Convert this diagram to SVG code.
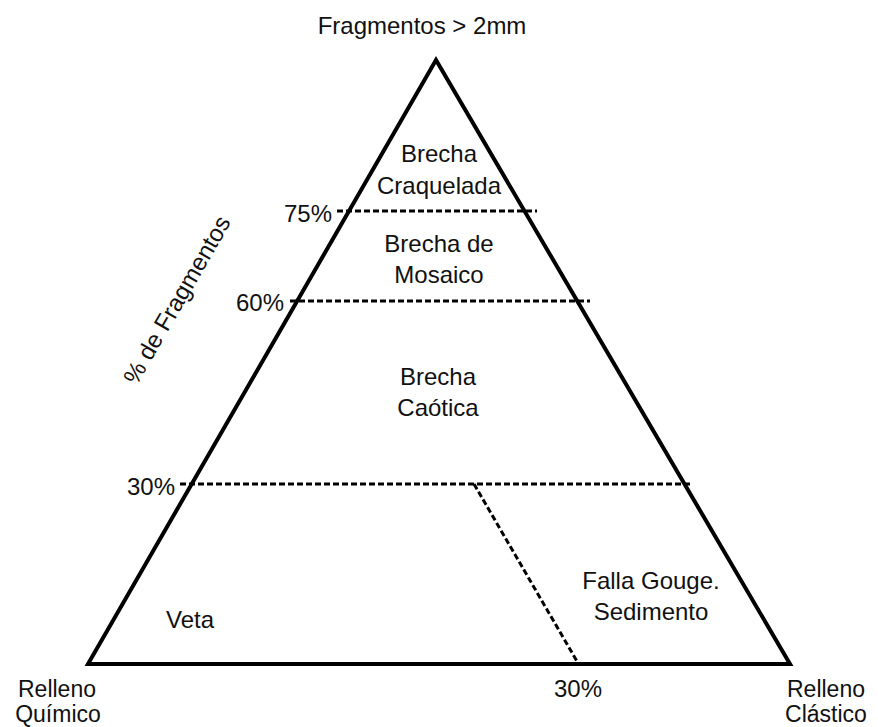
<svg xmlns="http://www.w3.org/2000/svg" width="878" height="727" viewBox="0 0 878 727">
  <style>
    text { font-family: "Liberation Sans", Arial, sans-serif; font-size: 24px; fill: #111; }
    .mid { text-anchor: middle; }
    .end { text-anchor: end; }
    .corner { font-size: 23px; }
    .edge { fill: none; stroke: #000; stroke-width: 4; stroke-linejoin: miter; }
    .div { fill: none; stroke: #000; stroke-width: 3; stroke-dasharray: 6 3; }
  </style>
  <rect width="878" height="727" fill="#fff"/>

  <!-- ternary frame -->
  <g id="triangle">
    <polygon class="edge" points="436,60 88,664 790,664"/>
  </g>

  <!-- dashed class boundaries -->
  <g id="connectors">
    <line class="div" x1="337" y1="211" x2="537" y2="211"/>
    <line class="div" x1="290" y1="301" x2="590" y2="301"/>
    <line class="div" x1="180" y1="484" x2="693" y2="484"/>
    <line class="div" x1="474" y1="484" x2="578" y2="663"/>
  </g>

  <!-- vertex labels -->
  <g id="apex-label"><text class="mid" x="422" y="34">Fragmentos &gt; 2mm</text></g>
  <g id="left-label">
    <text class="mid corner" x="57" y="697">Relleno</text>
    <text class="mid corner" x="58" y="722">Químico</text>
  </g>
  <g id="right-label">
    <text class="mid corner" x="826" y="697">Relleno</text>
    <text class="mid corner" x="826" y="722">Clástico</text>
  </g>

  <!-- axis ticks -->
  <g id="ticks">
    <text class="end" x="332" y="222">75%</text>
    <text class="end" x="284" y="311">60%</text>
    <text class="end" x="175" y="495">30%</text>
    <text class="mid" x="578" y="697">30%</text>
  </g>
  <g id="axis-title">
    <text class="mid" transform="translate(184,304) rotate(-60)">% de Fragmentos</text>
  </g>

  <!-- fields -->
  <g id="brecha-craquelada">
    <text class="mid" x="439" y="162">Brecha</text>
    <text class="mid" x="439" y="194">Craquelada</text>
  </g>
  <g id="brecha-mosaico">
    <text class="mid" x="439" y="252">Brecha de</text>
    <text class="mid" x="439" y="283">Mosaico</text>
  </g>
  <g id="brecha-caotica">
    <text class="mid" x="438" y="385">Brecha</text>
    <text class="mid" x="438" y="416">Caótica</text>
  </g>
  <g id="veta">
    <text class="mid" x="190" y="628">Veta</text>
  </g>
  <g id="falla-gouge">
    <text class="mid" x="651" y="589">Falla Gouge.</text>
    <text class="mid" x="651" y="620">Sedimento</text>
  </g>
</svg>
